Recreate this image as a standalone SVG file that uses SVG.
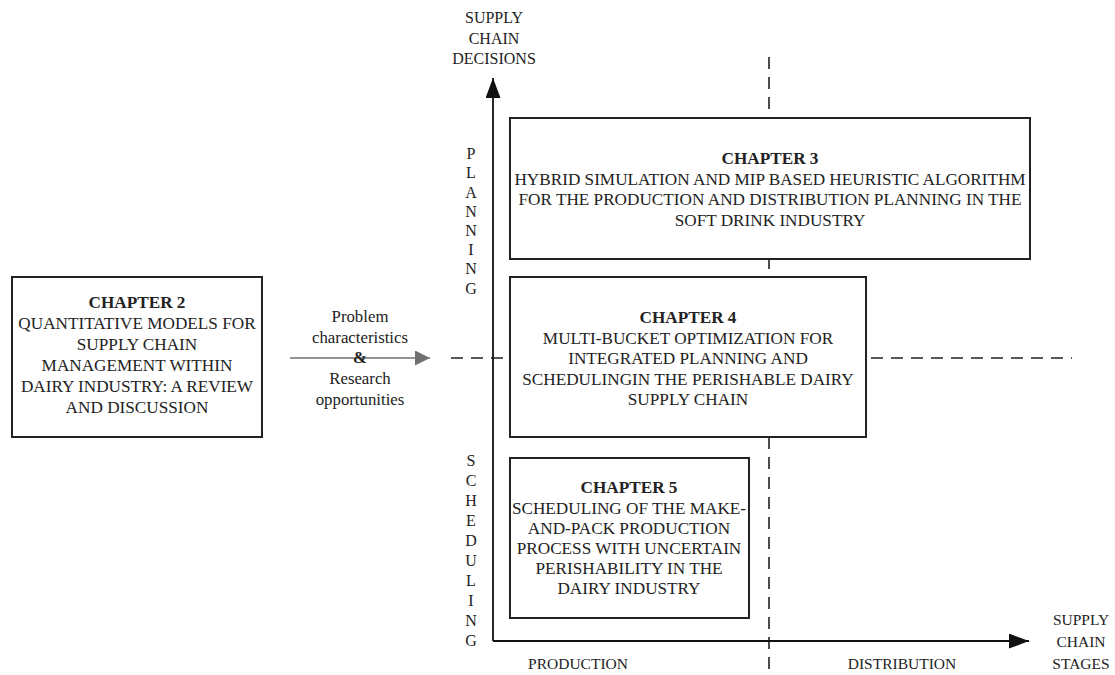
<svg xmlns="http://www.w3.org/2000/svg" width="1115" height="675" viewBox="0 0 1115 675">
  <style>
    text { font-family: "Liberation Serif", "Times New Roman", serif; font-size: 17.2px; fill: #222; text-anchor: middle; }
    .b { font-weight: bold; }
    .lbl { font-size: 15.5px; }
    .ax { font-size: 16px; }
    .note { font-size: 16.8px; }
    .box { fill: #fff; stroke: #222; stroke-width: 2; }
    .dash { stroke: #222; stroke-width: 1.6; stroke-dasharray: 12 8; fill: none; }
    .axis { stroke: #111; stroke-width: 1.8; fill: none; }
  </style>
  <defs>
    <marker id="head" viewBox="0 0 20 15" refX="20" refY="7.5" markerWidth="20" markerHeight="15" markerUnits="userSpaceOnUse" orient="auto">
      <path d="M0,0 L20,7.5 L0,15 z" fill="#111"/>
    </marker>
    <marker id="headGray" viewBox="0 0 15 15" refX="15" refY="7.5" markerWidth="15" markerHeight="15" markerUnits="userSpaceOnUse" orient="auto">
      <path d="M0,0 L15,7.5 L0,15 z" fill="#707070"/>
    </marker>
  </defs>

  <!-- guide lines and axes -->
  <g id="connectors">
    <line class="dash" x1="769" y1="57" x2="769" y2="675"/>
    <line class="dash" x1="451" y1="358" x2="1072" y2="358"/>
    <line class="axis" x1="493" y1="641" x2="493" y2="78" marker-end="url(#head)"/>
    <line class="axis" x1="493" y1="641" x2="1029" y2="641" marker-end="url(#head)"/>
    <line x1="290" y1="358" x2="430" y2="358" stroke="#707070" stroke-width="1.6" marker-end="url(#headGray)"/>
  </g>

  <!-- axis titles -->
  <g id="axis-labels">
    <text class="ax" x="494" y="23">SUPPLY</text>
    <text class="ax" x="494" y="44">CHAIN</text>
    <text class="ax" x="494" y="64">DECISIONS</text>
    <text class="lbl" x="1081" y="625">SUPPLY</text>
    <text class="lbl" x="1081" y="647">CHAIN</text>
    <text class="lbl" x="1081" y="669">STAGES</text>
    <text class="lbl" x="578" y="669">PRODUCTION</text>
    <text class="lbl" x="902" y="669">DISTRIBUTION</text>
  </g>

  <!-- vertical axis band labels -->
  <g id="band-labels" class="ax">
    <text class="ax" x="471" y="159">P</text>
    <text class="ax" x="471" y="178">L</text>
    <text class="ax" x="471" y="197.5">A</text>
    <text class="ax" x="471" y="217">N</text>
    <text class="ax" x="471" y="236">N</text>
    <text class="ax" x="471" y="255">I</text>
    <text class="ax" x="471" y="274">N</text>
    <text class="ax" x="471" y="294">G</text>
    <text class="ax" x="471" y="466">S</text>
    <text class="ax" x="471" y="486">C</text>
    <text class="ax" x="471" y="506">H</text>
    <text class="ax" x="471" y="526">E</text>
    <text class="ax" x="471" y="546">D</text>
    <text class="ax" x="471" y="566">U</text>
    <text class="ax" x="471" y="586">L</text>
    <text class="ax" x="471" y="606">I</text>
    <text class="ax" x="471" y="626">N</text>
    <text class="ax" x="471" y="646">G</text>
  </g>

  <!-- label on the arrow from chapter 2 -->
  <g id="arrow-label">
    <text class="note" x="360" y="322">Problem</text>
    <text class="note" x="360" y="343">characteristics</text>
    <text class="note b" x="360" y="363">&amp;</text>
    <text class="note" x="360" y="384">Research</text>
    <text class="note" x="360" y="405">opportunities</text>
  </g>

  <g id="chapter2">
    <rect class="box" x="12" y="277" width="250" height="160"/>
    <text class="b" x="137" y="308">CHAPTER 2</text>
    <text x="137" y="329">QUANTITATIVE MODELS FOR</text>
    <text x="137" y="350">SUPPLY CHAIN</text>
    <text x="137" y="371">MANAGEMENT WITHIN</text>
    <text x="137" y="392">DAIRY INDUSTRY: A REVIEW</text>
    <text x="137" y="413">AND DISCUSSION</text>
  </g>

  <g id="chapter3">
    <rect class="box" x="510" y="118" width="520" height="141"/>
    <text class="b" x="770" y="164">CHAPTER 3</text>
    <text x="770" y="184.5">HYBRID SIMULATION AND MIP BASED HEURISTIC ALGORITHM</text>
    <text x="770" y="205">FOR THE PRODUCTION AND DISTRIBUTION PLANNING IN THE</text>
    <text x="770" y="225.5">SOFT DRINK INDUSTRY</text>
  </g>

  <g id="chapter4">
    <rect class="box" x="510" y="277" width="356" height="160"/>
    <text class="b" x="688" y="323">CHAPTER 4</text>
    <text x="688" y="343.5">MULTI-BUCKET OPTIMIZATION FOR</text>
    <text x="688" y="364">INTEGRATED PLANNING AND</text>
    <text x="688" y="384.5">SCHEDULINGIN THE PERISHABLE DAIRY</text>
    <text x="688" y="405">SUPPLY CHAIN</text>
  </g>

  <g id="chapter5">
    <rect class="box" x="510" y="458" width="239" height="160"/>
    <text class="b" x="629" y="493">CHAPTER 5</text>
    <text x="629" y="514">SCHEDULING OF THE MAKE-</text>
    <text x="629" y="534">AND-PACK PRODUCTION</text>
    <text x="629" y="554">PROCESS WITH UNCERTAIN</text>
    <text x="629" y="574">PERISHABILITY IN THE</text>
    <text x="629" y="594">DAIRY INDUSTRY</text>
  </g>
</svg>
